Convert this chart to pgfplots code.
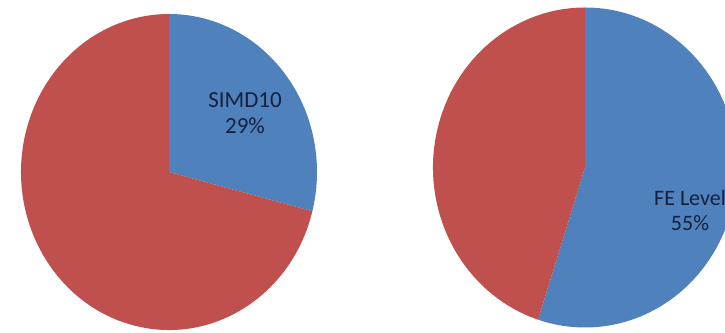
\documentclass[border=0pt]{standalone}
\usepackage{pgfplots}
\pgfplotsset{compat=1.18}
\usepackage{fontspec}
\setmainfont{Carlito}
\definecolor{pieblue}{HTML}{4F81BD}
\definecolor{piered}{HTML}{C0504D}
\definecolor{labtxt}{HTML}{14213D}
% data (percent of blue slice)
\def\leftBlue{29}
\def\rightBlue{55}
\pgfmathsetmacro{\leftEnd}{90-3.6*\leftBlue}
\pgfmathsetmacro{\rightEnd}{90-3.6*\rightBlue}
\begin{document}
\begin{tikzpicture}
\begin{axis}[
  scale only axis, width=725bp, height=333bp,
  xmin=0, xmax=725, ymin=0, ymax=333,
  hide axis, clip=true,
]
% left pie
\fill[pieblue] (axis cs:169,161) -- ++(90:148bp and 158bp)
  arc[start angle=90, end angle=\leftEnd, x radius=148bp, y radius=158bp] -- cycle;
\fill[piered] (axis cs:169,161) -- ++(\leftEnd:148bp and 158bp)
  arc[start angle=\leftEnd, end angle=-270, x radius=148bp, y radius=158bp] -- cycle;
% right pie
\fill[pieblue] (axis cs:585,165.5) -- ++(90:152bp and 160bp)
  arc[start angle=90, end angle=\rightEnd, x radius=152bp, y radius=160bp] -- cycle;
\fill[piered] (axis cs:585,165.5) -- ++(\rightEnd:152bp and 160bp)
  arc[start angle=\rightEnd, end angle=-270, x radius=152bp, y radius=160bp] -- cycle;
\node[text=labtxt, font=\fontsize{23bp}{26bp}\selectfont, align=center] at (axis cs:245,220) {SIMD10\\29\%};
\node[text=labtxt, font=\fontsize{22bp}{25bp}\selectfont, align=center] at (axis cs:690,123) {FE Level\\55\%};
\end{axis}
\pgfresetboundingbox
\useasboundingbox (current axis.south west) rectangle (current axis.north east);
\end{tikzpicture}
\end{document}
